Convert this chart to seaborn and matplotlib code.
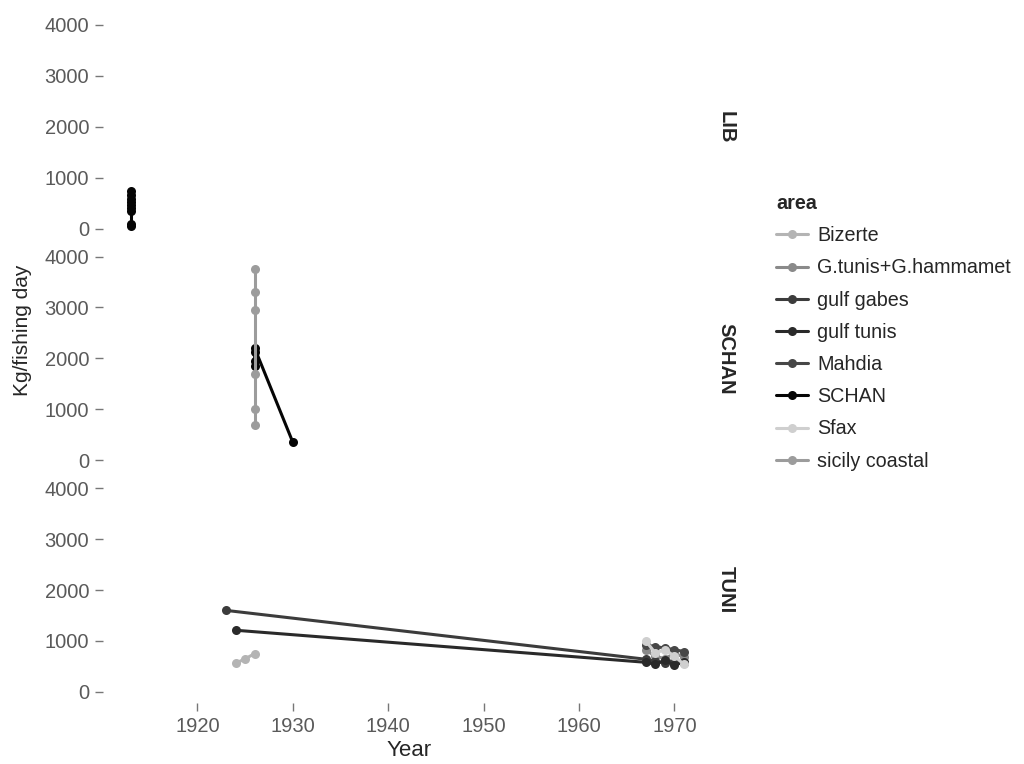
import pandas as pd
import seaborn as sb
import matplotlib.pyplot as plt

# legend order and grey shades (scanned ggplot output)
areas = ['Bizerte', 'G.tunis+G.hammamet', 'gulf gabes', 'gulf tunis',
         'Mahdia', 'SCHAN', 'Sfax', 'sicily coastal']
greys = ['#b4b4b4', '#8a8a8a', '#3c3c3c', '#2a2a2a',
         '#474747', '#050505', '#cfcfcf', '#9c9c9c']
regions = ['LIB', 'SCHAN', 'TUNI']

# LIB facet
lib_year = [1913, 1913, 1913, 1913, 1913, 1913, 1913, 1913, 1913]
lib_kg = [730, 660, 590, 530, 470, 410, 350, 90, 50]

# SCHAN facet
schan_year = [1926, 1926, 1926, 1926, 1930]
schan_kg = [2200, 2120, 1950, 1850, 350]
sicily_year = [1926, 1926, 1926, 1926, 1926, 1926]
sicily_kg = [3750, 3300, 2950, 1700, 1000, 700]

# TUNI facet
gabes_year = [1923, 1967, 1968, 1969, 1970, 1971]
gabes_kg = [1600, 640, 600, 570, 610, 560]
gtunis_year = [1924, 1967, 1968, 1969, 1970, 1971]
gtunis_kg = [1210, 580, 540, 620, 520, 590]
mahdia_year = [1967, 1968, 1969, 1970, 1971]
mahdia_kg = [920, 890, 860, 830, 790]
bizerte_year = [1924, 1925, 1926]
bizerte_kg = [560, 650, 750]
gtgh_year = [1967, 1968, 1969, 1970, 1971]
gtgh_kg = [820, 700, 650, 760, 680]
sfax_year = [1967, 1968, 1969, 1970, 1971]
sfax_kg = [1000, 760, 830, 700, 540]

def block(region, area, years, kg):
    return pd.DataFrame({'region': region, 'area': area, 'Year': years, 'kg': kg})

df = pd.concat([
    block('LIB', 'SCHAN', lib_year, lib_kg),
    block('SCHAN', 'SCHAN', schan_year, schan_kg),
    block('SCHAN', 'sicily coastal', sicily_year, sicily_kg),
    block('TUNI', 'Bizerte', bizerte_year, bizerte_kg),
    block('TUNI', 'G.tunis+G.hammamet', gtgh_year, gtgh_kg),
    block('TUNI', 'gulf gabes', gabes_year, gabes_kg),
    block('TUNI', 'gulf tunis', gtunis_year, gtunis_kg),
    block('TUNI', 'Mahdia', mahdia_year, mahdia_kg),
    block('TUNI', 'Sfax', sfax_year, sfax_kg),
], ignore_index=True)

sb.set_style('white')
plt.rcParams['font.family'] = ['Liberation Sans', 'DejaVu Sans']

g = sb.relplot(data=df, x='Year', y='kg', hue='area', hue_order=areas,
               palette=dict(zip(areas, greys)), row='region', row_order=regions,
               kind='line', estimator=None, marker='o', markersize=6.5,
               markeredgewidth=0, linewidth=2.2, height=2.3, aspect=4,
               facet_kws=dict(margin_titles=True, sharex=True, sharey=True))

fig = g.figure
fig.set_size_inches(10.24, 7.64)
fig.subplots_adjust(left=0.1006, right=0.695, top=0.982, bottom=0.0798, hspace=0.025)

g.set_axis_labels('', '')
g.set_titles(row_template='{row_name}', col_template='', fontweight='bold', size=14.5,
             xytext=(1.008, 0.5), textcoords='axes fraction')
g.despine(left=True, bottom=True)

for i, ax in enumerate(g.axes.flat):
    ax.set_xlim(1910.1, 1973.9)
    ax.set_ylim(-220, 4220)
    ax.set_yticks([0, 1000, 2000, 3000, 4000])
    ax.set_xticks([1920, 1930, 1940, 1950, 1960, 1970])
    ax.tick_params(axis='y', left=True, length=6, width=1, pad=4, color='#777777',
                   labelcolor='#5a5a5a', labelsize=14.5)
    ax.tick_params(axis='x', bottom=(i == 2), length=6, width=1, pad=4, color='#777777',
                   labelcolor='#5a5a5a', labelsize=14.5)

fig.text(409 / 1024, 1 - 750 / 764, 'Year', ha='center', va='center', fontsize=16)
fig.text(23 / 1024, 1 - 330 / 764, 'Kg/fishing day', rotation=90,
         ha='center', va='center', fontsize=15)

sb.move_legend(g, 'upper left', bbox_to_anchor=(776 / 1024, 1 - 194 / 764),
               frameon=False, fontsize=14.2, title_fontsize=14.2, title='area',
               labelspacing=0.67, handlelength=1.6, handletextpad=0.5,
               borderpad=0, borderaxespad=0, alignment='left')
g.legend.get_title().set_fontweight('bold')

fig.savefig('out.png', dpi=100)
